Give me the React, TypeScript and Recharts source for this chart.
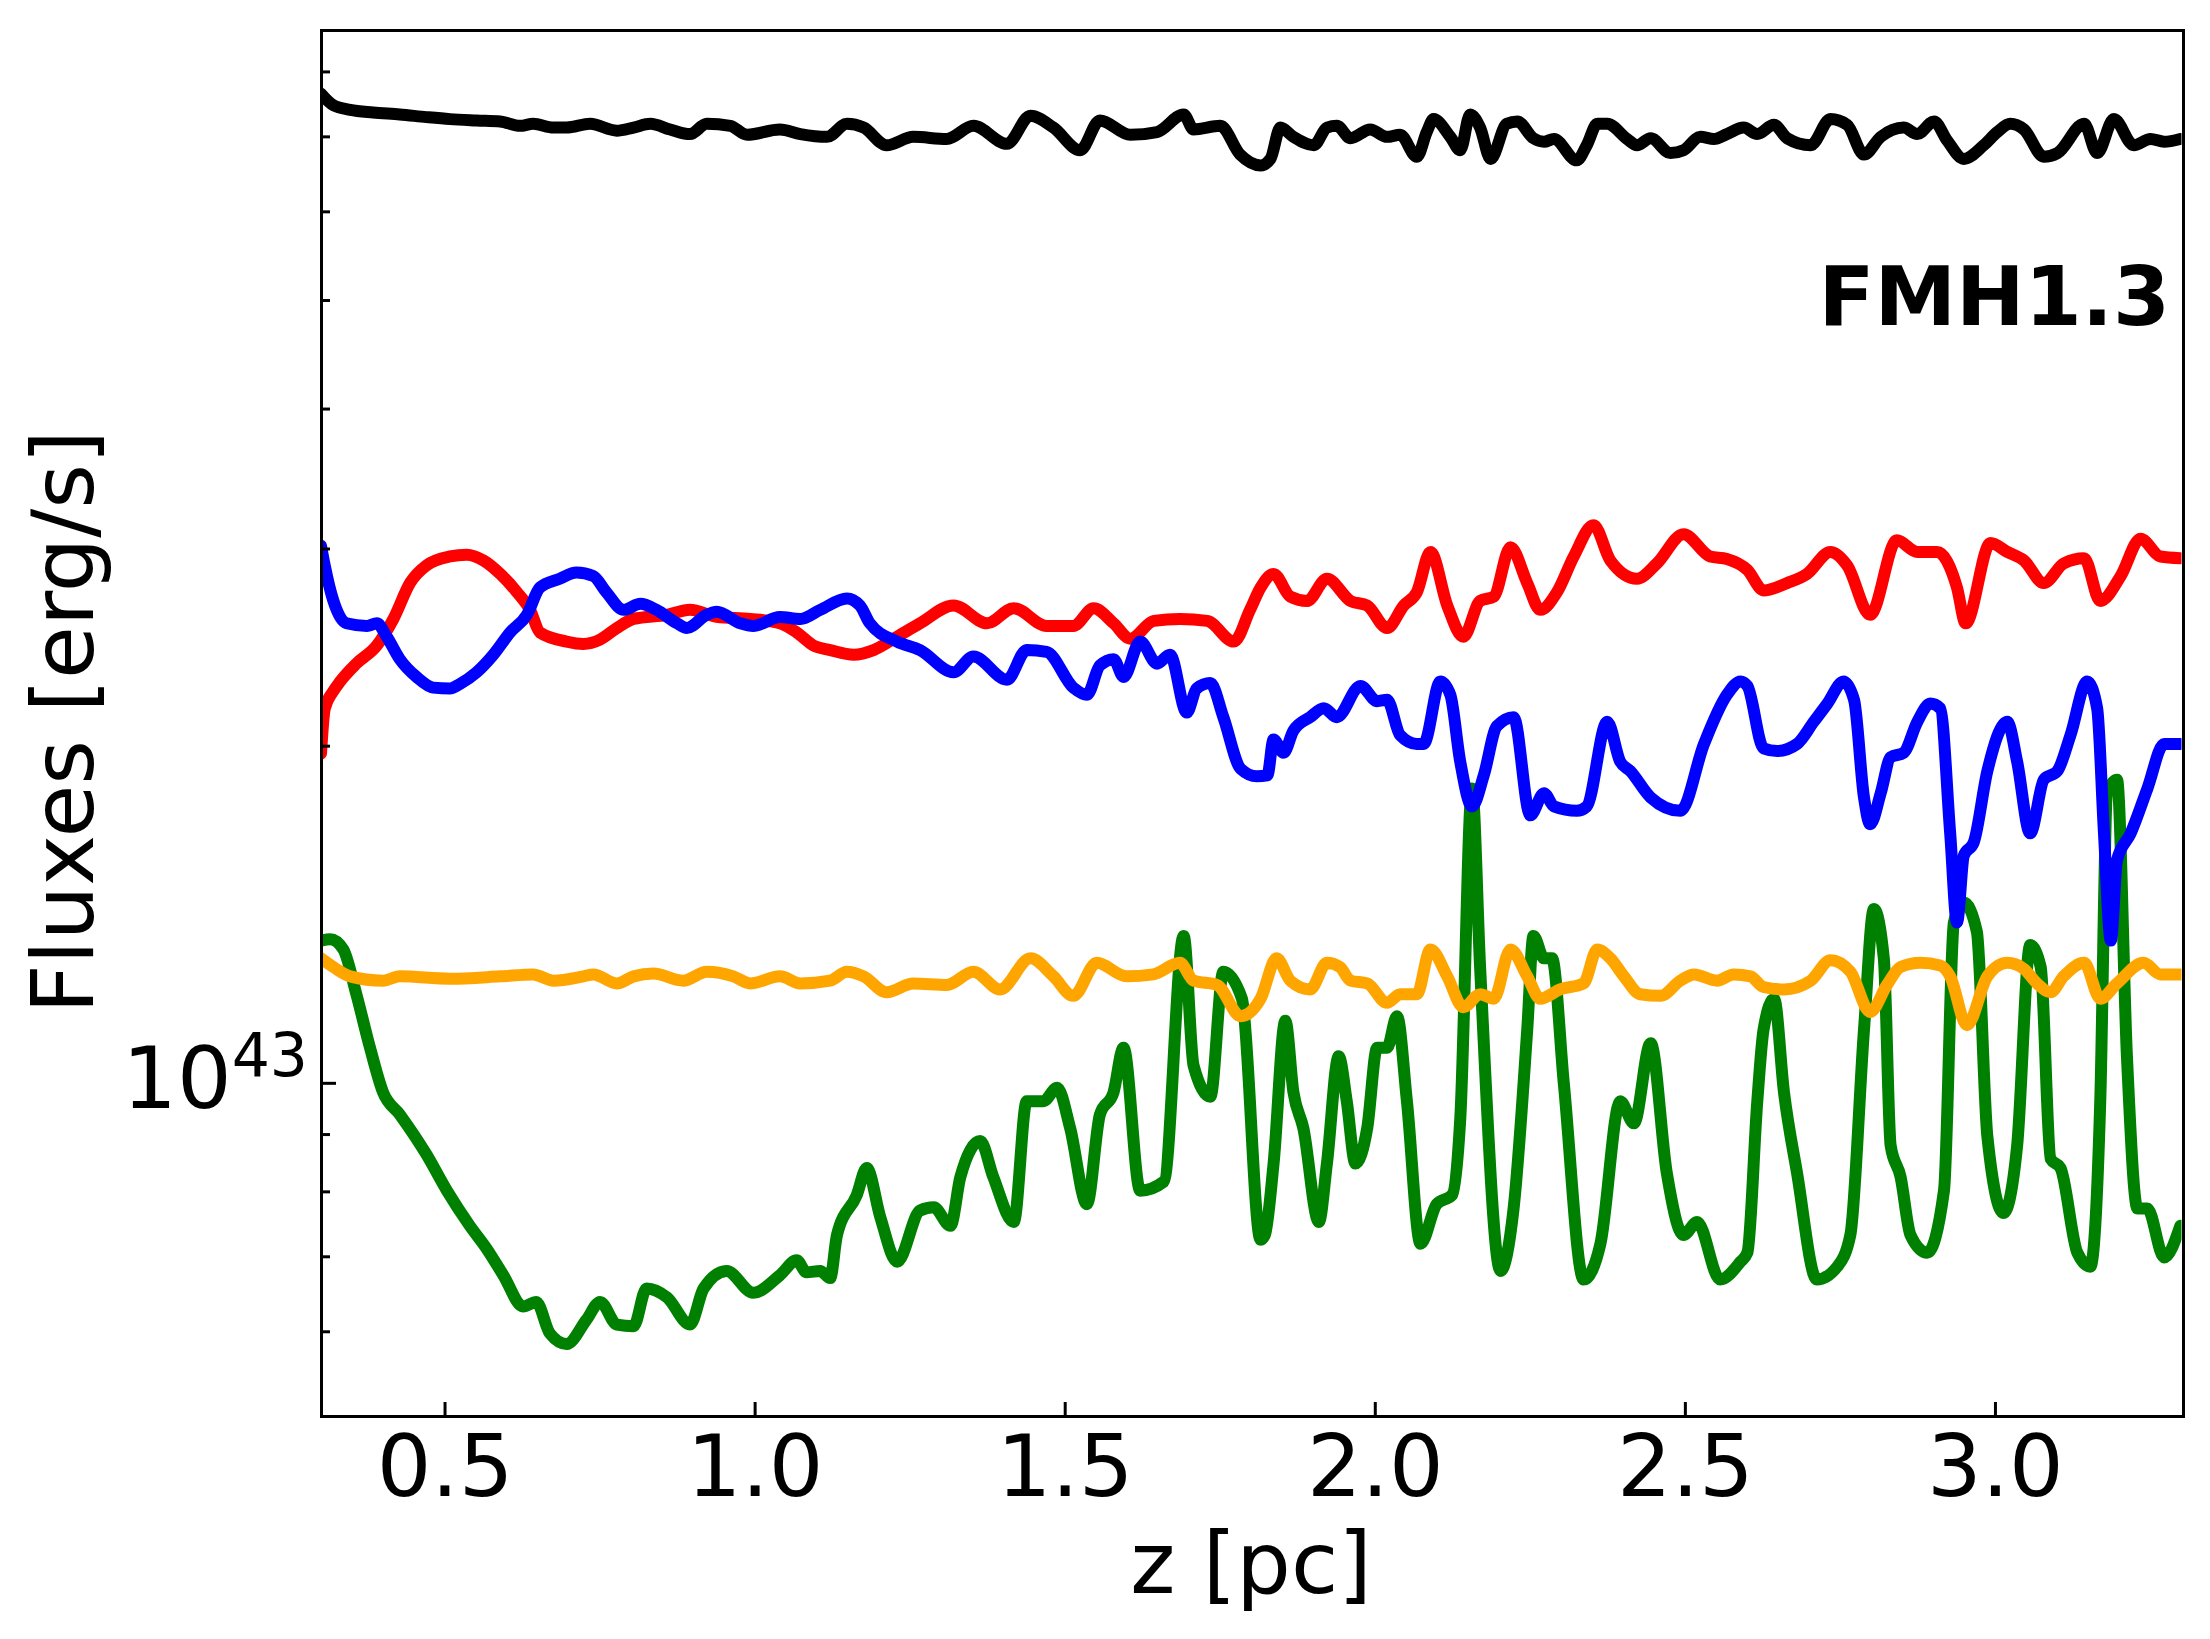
import React from "react";
import { LineChart, Line, XAxis, YAxis } from "recharts";

// fluxes in units of 1e43 erg/s, z in pc
const blackZ = [0.3, 0.32, 0.347, 0.384, 0.427, 0.47, 0.508, 0.551, 0.589, 0.621, 0.642, 0.675, 0.696, 0.734, 0.777, 0.804, 0.831, 0.863, 0.895, 0.922, 0.96, 0.987, 1.04, 1.073, 1.116, 1.148, 1.175, 1.212, 1.255, 1.309, 1.352, 1.406, 1.444, 1.481, 1.524, 1.556, 1.605, 1.648, 1.691, 1.707, 1.75, 1.782, 1.815, 1.831, 1.847, 1.868, 1.901, 1.922, 1.938, 1.96, 1.992, 2.019, 2.04, 2.067, 2.083, 2.094, 2.121, 2.137, 2.153, 2.169, 2.186, 2.212, 2.229, 2.255, 2.272, 2.288, 2.325, 2.341, 2.358, 2.374, 2.406, 2.422, 2.444, 2.476, 2.497, 2.524, 2.546, 2.567, 2.594, 2.616, 2.643, 2.664, 2.702, 2.734, 2.761, 2.788, 2.815, 2.852, 2.874, 2.901, 2.922, 2.949, 2.981, 3.003, 3.024, 3.046, 3.078, 3.1, 3.143, 3.164, 3.191, 3.223, 3.25, 3.272, 3.298];
const blackF = [7.65, 7.47, 7.4, 7.36, 7.33, 7.29, 7.26, 7.24, 7.225, 7.16, 7.19, 7.135, 7.135, 7.19, 7.09, 7.135, 7.19, 7.107, 7.04, 7.19, 7.16, 7.03, 7.107, 7.04, 7.0, 7.19, 7.135, 6.88, 7.0, 6.97, 7.16, 6.9, 7.31, 7.135, 6.81, 7.24, 7.03, 7.07, 7.33, 7.107, 7.16, 6.75, 6.6, 6.69, 7.135, 7.0, 6.88, 7.135, 7.16, 6.98, 7.107, 7.0, 7.03, 6.72, 7.07, 7.26, 7.0, 6.81, 7.33, 7.135, 6.69, 7.19, 7.225, 6.98, 6.93, 6.97, 6.67, 6.88, 7.19, 7.19, 6.97, 6.88, 6.98, 6.77, 6.81, 7.0, 6.97, 7.04, 7.135, 7.04, 7.175, 6.98, 6.88, 7.26, 7.175, 6.75, 7.0, 7.135, 7.04, 7.225, 6.95, 6.69, 6.88, 7.07, 7.19, 7.107, 6.72, 6.77, 7.19, 6.77, 7.26, 6.88, 6.97, 6.93, 6.97];

const redZ = [0.3, 0.306, 0.32, 0.331, 0.357, 0.39, 0.417, 0.444, 0.47, 0.508, 0.535, 0.562, 0.589, 0.616, 0.637, 0.653, 0.696, 0.723, 0.75, 0.777, 0.804, 0.858, 0.895, 0.938, 0.992, 1.04, 1.067, 1.094, 1.121, 1.159, 1.191, 1.229, 1.266, 1.32, 1.374, 1.417, 1.47, 1.513, 1.546, 1.578, 1.605, 1.643, 1.685, 1.729, 1.772, 1.798, 1.815, 1.836, 1.863, 1.89, 1.922, 1.96, 1.987, 2.019, 2.046, 2.067, 2.089, 2.116, 2.142, 2.169, 2.191, 2.218, 2.245, 2.266, 2.293, 2.32, 2.352, 2.379, 2.422, 2.454, 2.497, 2.54, 2.567, 2.6, 2.626, 2.664, 2.696, 2.734, 2.761, 2.798, 2.841, 2.874, 2.906, 2.938, 2.952, 2.992, 3.019, 3.046, 3.078, 3.11, 3.143, 3.169, 3.202, 3.234, 3.266, 3.298];
const redF = [1.97, 2.16, 2.24, 2.285, 2.37, 2.46, 2.6, 2.8, 2.9, 2.954, 2.965, 2.93, 2.85, 2.745, 2.647, 2.527, 2.48, 2.468, 2.49, 2.55, 2.598, 2.62, 2.647, 2.61, 2.598, 2.575, 2.527, 2.46, 2.437, 2.414, 2.437, 2.505, 2.575, 2.671, 2.575, 2.656, 2.561, 2.561, 2.656, 2.575, 2.495, 2.588, 2.598, 2.588, 2.48, 2.647, 2.771, 2.85, 2.72, 2.696, 2.822, 2.696, 2.671, 2.55, 2.671, 2.745, 2.982, 2.671, 2.505, 2.696, 2.72, 3.01, 2.797, 2.647, 2.745, 2.954, 3.15, 2.93, 2.822, 2.912, 3.093, 2.954, 2.939, 2.874, 2.755, 2.797, 2.85, 2.982, 2.9, 2.62, 3.054, 2.982, 2.982, 2.771, 2.575, 3.037, 2.982, 2.93, 2.797, 2.912, 2.944, 2.696, 2.838, 3.064, 2.954, 2.944];

const blueZ = [0.3, 0.306, 0.32, 0.341, 0.374, 0.39, 0.406, 0.427, 0.454, 0.481, 0.508, 0.524, 0.551, 0.578, 0.605, 0.632, 0.653, 0.685, 0.712, 0.739, 0.76, 0.788, 0.815, 0.841, 0.874, 0.89, 0.922, 0.938, 0.976, 0.997, 1.04, 1.073, 1.105, 1.148, 1.169, 1.185, 1.229, 1.266, 1.32, 1.352, 1.406, 1.438, 1.47, 1.513, 1.535, 1.556, 1.578, 1.594, 1.621, 1.648, 1.669, 1.696, 1.712, 1.734, 1.755, 1.783, 1.809, 1.826, 1.836, 1.852, 1.868, 1.895, 1.917, 1.938, 1.976, 2.003, 2.019, 2.04, 2.067, 2.078, 2.105, 2.121, 2.137, 2.156, 2.175, 2.196, 2.223, 2.25, 2.272, 2.288, 2.325, 2.341, 2.374, 2.395, 2.411, 2.444, 2.492, 2.53, 2.567, 2.589, 2.6, 2.626, 2.648, 2.68, 2.707, 2.729, 2.755, 2.772, 2.788, 2.798, 2.815, 2.831, 2.852, 2.874, 2.895, 2.911, 2.927, 2.938, 2.949, 2.965, 2.987, 3.019, 3.035, 3.056, 3.078, 3.1, 3.121, 3.148, 3.164, 3.175, 3.186, 3.196, 3.218, 3.245, 3.272, 3.298];
const blueF = [3.02, 2.9, 2.696, 2.575, 2.561, 2.575, 2.505, 2.392, 2.306, 2.256, 2.252, 2.273, 2.328, 2.414, 2.527, 2.62, 2.771, 2.822, 2.858, 2.838, 2.745, 2.647, 2.68, 2.647, 2.575, 2.55, 2.62, 2.637, 2.575, 2.561, 2.608, 2.598, 2.647, 2.71, 2.671, 2.575, 2.48, 2.437, 2.328, 2.405, 2.293, 2.437, 2.428, 2.256, 2.223, 2.361, 2.392, 2.306, 2.48, 2.37, 2.414, 2.143, 2.252, 2.277, 2.123, 1.909, 1.88, 1.884, 2.028, 1.973, 2.065, 2.123, 2.162, 2.123, 2.264, 2.194, 2.2, 2.046, 2.009, 2.009, 2.285, 2.223, 1.937, 1.767, 1.884, 2.084, 2.123, 1.735, 1.816, 1.767, 1.751, 1.767, 2.103, 1.937, 1.901, 1.8, 1.751, 2.009, 2.223, 2.285, 2.264, 1.991, 1.98, 2.009, 2.103, 2.183, 2.285, 2.2, 1.8, 1.703, 1.816, 1.955, 1.973, 2.103, 2.183, 2.162, 1.672, 1.392, 1.597, 1.641, 1.901, 2.103, 1.937, 1.672, 1.867, 1.901, 2.046, 2.285, 2.162, 1.672, 1.341, 1.582, 1.672, 1.833, 2.009, 2.009];

const greenZ = [0.3, 0.315, 0.336, 0.357, 0.379, 0.4, 0.427, 0.47, 0.503, 0.54, 0.567, 0.594, 0.626, 0.647, 0.669, 0.696, 0.728, 0.75, 0.777, 0.804, 0.825, 0.858, 0.895, 0.917, 0.954, 0.997, 1.04, 1.067, 1.083, 1.105, 1.121, 1.132, 1.164, 1.18, 1.202, 1.229, 1.266, 1.288, 1.315, 1.331, 1.363, 1.384, 1.417, 1.438, 1.465, 1.487, 1.508, 1.535, 1.556, 1.578, 1.594, 1.621, 1.659, 1.691, 1.707, 1.734, 1.755, 1.785, 1.815, 1.822, 1.836, 1.855, 1.868, 1.884, 1.909, 1.922, 1.941, 1.954, 1.968, 1.987, 2.003, 2.019, 2.035, 2.051, 2.073, 2.099, 2.124, 2.137, 2.156, 2.169, 2.202, 2.223, 2.245, 2.255, 2.272, 2.285, 2.304, 2.336, 2.363, 2.395, 2.417, 2.444, 2.47, 2.497, 2.519, 2.556, 2.589, 2.6, 2.616, 2.626, 2.643, 2.659, 2.68, 2.712, 2.745, 2.766, 2.788, 2.804, 2.82, 2.831, 2.847, 2.863, 2.89, 2.917, 2.933, 2.949, 2.97, 2.987, 3.013, 3.035, 3.056, 3.073, 3.089, 3.105, 3.132, 3.153, 3.169, 3.18, 3.196, 3.212, 3.229, 3.245, 3.272, 3.298];
const greenF = [1.341, 1.345, 1.317, 1.201, 1.076, 0.982, 0.938, 0.864, 0.802, 0.746, 0.712, 0.674, 0.632, 0.638, 0.598, 0.585, 0.615, 0.638, 0.609, 0.607, 0.656, 0.644, 0.609, 0.656, 0.68, 0.65, 0.674, 0.695, 0.678, 0.68, 0.67, 0.732, 0.795, 0.84, 0.759, 0.693, 0.77, 0.775, 0.746, 0.825, 0.888, 0.825, 0.752, 0.964, 0.964, 0.991, 0.912, 0.78, 0.938, 0.982, 1.076, 0.802, 0.817, 1.354, 1.037, 0.973, 1.258, 1.19, 0.725, 0.732, 0.848, 1.137, 0.982, 0.912, 0.752, 0.848, 1.057, 0.964, 0.848, 0.912, 1.076, 1.076, 1.148, 0.964, 0.719, 0.78, 0.795, 0.929, 1.833, 1.27, 0.68, 0.773, 1.116, 1.354, 1.293, 1.293, 1.0, 0.668, 0.719, 0.964, 0.921, 1.086, 0.832, 0.732, 0.752, 0.668, 0.693, 0.706, 0.964, 1.116, 1.19, 0.982, 0.832, 0.668, 0.686, 0.732, 1.116, 1.431, 1.293, 0.88, 0.825, 0.732, 0.706, 0.802, 1.392, 1.45, 1.366, 0.896, 0.766, 0.88, 1.329, 1.27, 0.856, 0.84, 0.706, 0.686, 0.964, 1.816, 1.867, 1.057, 0.773, 0.773, 0.699, 0.746];

const orangeZ = [0.3, 0.32, 0.347, 0.4, 0.427, 0.508, 0.589, 0.642, 0.675, 0.723, 0.739, 0.777, 0.804, 0.836, 0.884, 0.922, 0.965, 0.992, 1.04, 1.073, 1.121, 1.148, 1.175, 1.212, 1.255, 1.309, 1.352, 1.395, 1.444, 1.481, 1.513, 1.551, 1.599, 1.642, 1.685, 1.707, 1.745, 1.783, 1.815, 1.841, 1.863, 1.895, 1.922, 1.943, 1.96, 1.987, 2.019, 2.04, 2.067, 2.089, 2.116, 2.142, 2.169, 2.191, 2.218, 2.245, 2.266, 2.298, 2.336, 2.358, 2.379, 2.401, 2.427, 2.46, 2.492, 2.514, 2.551, 2.578, 2.605, 2.626, 2.659, 2.702, 2.734, 2.766, 2.798, 2.825, 2.847, 2.879, 2.911, 2.927, 2.954, 2.987, 3.019, 3.046, 3.067, 3.089, 3.11, 3.143, 3.169, 3.196, 3.239, 3.266, 3.298];
const orangeF = [1.293, 1.27, 1.246, 1.235, 1.246, 1.24, 1.246, 1.251, 1.235, 1.246, 1.251, 1.228, 1.246, 1.253, 1.235, 1.258, 1.246, 1.228, 1.246, 1.228, 1.235, 1.258, 1.246, 1.206, 1.228, 1.224, 1.258, 1.213, 1.293, 1.246, 1.197, 1.281, 1.246, 1.251, 1.281, 1.235, 1.224, 1.148, 1.19, 1.293, 1.235, 1.213, 1.281, 1.27, 1.235, 1.228, 1.18, 1.201, 1.201, 1.317, 1.246, 1.169, 1.201, 1.19, 1.317, 1.246, 1.19, 1.213, 1.228, 1.317, 1.293, 1.246, 1.201, 1.197, 1.235, 1.251, 1.235, 1.251, 1.246, 1.219, 1.213, 1.235, 1.288, 1.258, 1.158, 1.224, 1.27, 1.281, 1.274, 1.246, 1.127, 1.246, 1.281, 1.265, 1.228, 1.206, 1.246, 1.281, 1.19, 1.228, 1.281, 1.251, 1.251];

const xTicks = [0.5, 1.0, 1.5, 2.0, 2.5, 3.0];
const yTicks = [0.6, 0.7, 0.8, 0.9, 1, 2, 3, 4, 5, 6, 7, 8];

const toPoints = (zs: number[], fs: number[]) => zs.map((z, i) => ({ z, f: fs[i] }));

const FONT = "DejaVu Sans";

const XTick = (props: any) => {
  const { x, y, payload } = props;
  return (
    <g>
      <line x1={x} x2={x} y1={y} y2={y - 14} stroke="#000" strokeWidth={3} />
      <text x={x} y={y + 80} textAnchor="middle" fontFamily={FONT} fontSize={86} fill="#000">
        {payload.value.toFixed(1)}
      </text>
    </g>
  );
};

const YTick = (props: any) => {
  const { x, y, payload } = props;
  const major = payload.value === 1;
  return (
    <g>
      <line x1={x} x2={x + (major ? 15 : 9)} y1={y} y2={y} stroke="#000" strokeWidth={3} />
      {major && (
        <text x={x - 13} y={y + 25} textAnchor="end" fontFamily={FONT} fontSize={86} fill="#000">
          10
          <tspan fontSize={60} dy={-32}>
            43
          </tspan>
        </text>
      )}
    </g>
  );
};

const series = [
  { name: "black", color: "#000000", pts: toPoints(blackZ, blackF) },
  { name: "green", color: "#008000", pts: toPoints(greenZ, greenF) },
  { name: "red", color: "#ff0000", pts: toPoints(redZ, redF) },
  { name: "blue", color: "#0000ff", pts: toPoints(blueZ, blueF) },
  { name: "orange", color: "#ffa500", pts: toPoints(orangeZ, orangeF) },
];

export default function App() {
  return (
    <div style={{ position: "absolute", left: 0, top: 0, width: 2210, height: 1639, background: "#fff" }}>
      <LineChart width={2210} height={1639} margin={{ top: 30, right: 28.5, bottom: 123, left: 81 }}>
        <XAxis
          dataKey="z"
          type="number"
          domain={[0.3, 3.3]}
          allowDataOverflow
          ticks={xTicks}
          tick={<XTick />}
          tickSize={0}
          tickMargin={0}
          axisLine={false}
          height={100}
        />
        <YAxis
          dataKey="f"
          type="number"
          scale="log"
          domain={[0.5046, 8.72]}
          allowDataOverflow
          ticks={yTicks}
          tick={<YTick />}
          tickSize={0}
          tickMargin={0}
          axisLine={false}
          width={240}
        />
        {series.map((s) => (
          <Line
            key={s.name}
            data={s.pts}
            dataKey="f"
            type="monotone"
            stroke={s.color}
            strokeWidth={12}
            strokeLinejoin="round"
            strokeLinecap="round"
            dot={false}
            isAnimationActive={false}
          />
        ))}
      </LineChart>
      <div
        style={{
          position: "absolute",
          left: 319.5,
          top: 28.5,
          width: 1865,
          height: 1389,
          border: "3px solid #000",
          boxSizing: "border-box",
          pointerEvents: "none",
        }}
      />
      <svg width={2210} height={1639} style={{ position: "absolute", left: 0, top: 0, pointerEvents: "none" }}>
        <text
          x={93}
          y={722}
          transform="rotate(-90 93 722)"
          textAnchor="middle"
          fontFamily={FONT}
          fontSize={86}
          fill="#000"
        >
          Fluxes [erg/s]
        </text>
        <text x={1251} y={1593} textAnchor="middle" fontFamily={FONT} fontSize={86} fill="#000">
          z [pc]
        </text>
        <text x={2170} y={325} textAnchor="end" fontFamily={FONT} fontWeight="bold" fontSize={82} fill="#000">
          FMH1.3
        </text>
      </svg>
    </div>
  );
}
